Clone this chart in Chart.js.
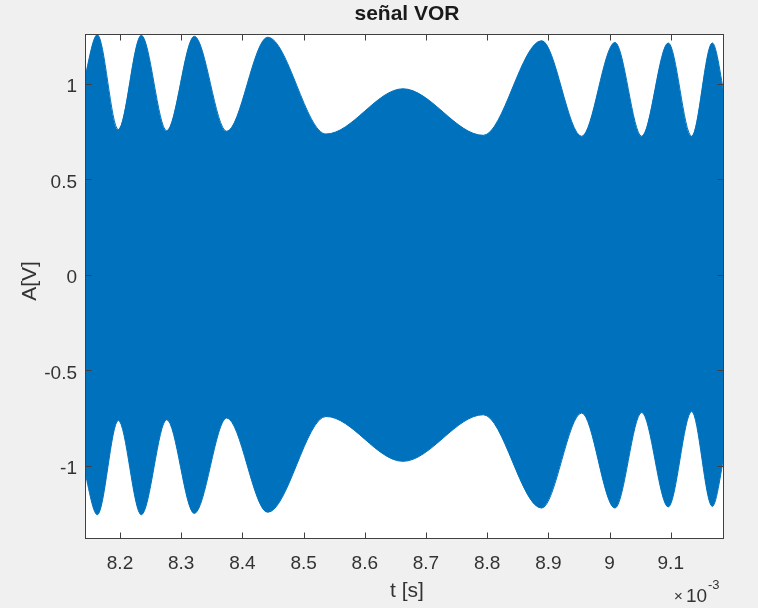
<!DOCTYPE html>
<html>
<head>
<meta charset="utf-8">
<script src="https://cdn.jsdelivr.net/npm/chart.js@4.4.1/dist/chart.umd.min.js"></script>
<style>
  html, body { margin: 0; padding: 0; background: #f0f0f0; }
  #wrap { width: 758px; height: 608px; }
</style>
</head>
<body>
<div id="wrap"><canvas id="c" width="758" height="608"></canvas></div>
<script>
// Time axis in units of 1e-3 s (the axis shows the ×10^-3 multiplier)
const timeMs = [8.140, 8.1629, 8.1972, 8.2348, 8.2763, 8.3214, 8.3743, 8.4413, 8.5366,
                8.6624, 8.7936, 8.8890, 8.9544, 9.0088, 9.0525, 9.0959, 9.1342, 9.1678, 9.190];

// Envelope of the modulated carrier (the carrier itself is too dense to resolve: it fills the band)
const upperEnvelope = [1.0, 1.258, 0.761, 1.255, 0.755, 1.250, 0.752, 1.245, 0.738,
                       0.975, 0.731, 1.227, 0.726, 1.218, 0.726, 1.215, 0.726, 1.215, 0.90];
const lowerEnvelope = [-1.0, -1.257, -0.763, -1.257, -0.759, -1.250, -0.750, -1.244, -0.742,
                       -0.977, -0.733, -1.222, -0.724, -1.222, -0.721, -1.216, -0.716, -1.213, -0.90];

const xTickValues = [8.2, 8.3, 8.4, 8.5, 8.6, 8.7, 8.8, 8.9, 9.0, 9.1];
const xTickLabels = ['8.2', '8.3', '8.4', '8.5', '8.6', '8.7', '8.8', '8.9', '9', '9.1'];
const yTickValues = [-1, -0.5, 0, 0.5, 1];
const yTickLabels = ['-1', '-0.5', '0', '0.5', '1'];

const xRange = [8.1428, 9.187];
const yRange = [-1.384, 1.262];

const FONT = "'Liberation Sans', Arial, Helvetica, sans-serif";
const INK = '#333333';
const BLUE = '#0072BD';

const toPoints = (xs, ys) => xs.map((x, i) => ({ x: x, y: ys[i] }));

// Figure background, white axes area, box with inward ticks and the text annotations
const axesFrame = {
  id: 'axesFrame',
  beforeDraw(chart) {
    const { ctx, chartArea: a } = chart;
    ctx.save();
    ctx.fillStyle = '#f0f0f0';
    ctx.fillRect(0, 0, chart.width, chart.height);
    ctx.fillStyle = '#ffffff';
    ctx.fillRect(a.left, a.top, a.right - a.left, a.bottom - a.top);
    ctx.restore();
  },
  afterDatasetsDraw(chart) {
    const { ctx, chartArea: a, scales } = chart;
    const L = Math.round(a.left) + 0.5, R = Math.round(a.right) - 0.5;
    const T = Math.round(a.top) + 0.5, B = Math.round(a.bottom) - 0.5;
    ctx.save();
    ctx.strokeStyle = '#404040';
    ctx.lineWidth = 1;
    ctx.beginPath();
    xTickValues.forEach(v => {
      const px = Math.round(scales.x.getPixelForValue(v)) + 0.5;
      ctx.moveTo(px, B); ctx.lineTo(px, B - 6);
      ctx.moveTo(px, T); ctx.lineTo(px, T + 6);
    });
    yTickValues.forEach(v => {
      const py = Math.round(scales.y.getPixelForValue(v)) + 0.5;
      ctx.moveTo(L, py); ctx.lineTo(L + 6, py);
      ctx.moveTo(R, py); ctx.lineTo(R - 6, py);
    });
    ctx.stroke();
    ctx.strokeRect(L, T, R - L, B - T);
    ctx.restore();
  },
  afterDraw(chart) {
    const { ctx } = chart;
    ctx.save();
    ctx.fillStyle = '#1a1a1a';
    ctx.textAlign = 'center';
    ctx.textBaseline = 'middle';
    ctx.font = 'bold 21px ' + FONT;
    ctx.fillText('señal VOR', 407, 14);

    ctx.fillStyle = INK;
    ctx.font = '21px ' + FONT;
    ctx.fillText('t [s]', 407, 591);

    ctx.save();
    ctx.translate(30, 281);
    ctx.rotate(-Math.PI / 2);
    ctx.fillText('A[V]', 0, 0);
    ctx.restore();

    ctx.textAlign = 'left';
    ctx.textBaseline = 'alphabetic';
    ctx.font = '15px ' + FONT;
    ctx.fillText('×', 674, 601);
    ctx.font = '19px ' + FONT;
    ctx.fillText('10', 686, 602);
    ctx.font = '13px ' + FONT;
    ctx.fillText('-3', 708, 589);
    ctx.restore();
  }
};

new Chart(document.getElementById('c'), {
  type: 'line',
  data: {
    datasets: [
      {
        label: 'upper',
        data: toPoints(timeMs, upperEnvelope),
        borderColor: BLUE,
        backgroundColor: BLUE,
        borderWidth: 1,
        pointRadius: 0,
        cubicInterpolationMode: 'monotone',
        fill: '+1'
      },
      {
        label: 'lower',
        data: toPoints(timeMs, lowerEnvelope),
        borderColor: BLUE,
        backgroundColor: BLUE,
        borderWidth: 1,
        pointRadius: 0,
        cubicInterpolationMode: 'monotone',
        fill: false
      }
    ]
  },
  options: {
    responsive: false,
    animation: false,
    devicePixelRatio: 1,
    layout: { padding: { left: 0, top: 34, right: 34, bottom: 0 } },
    plugins: {
      legend: { display: false },
      tooltip: { enabled: false },
      title: { display: false }
    },
    scales: {
      x: {
        type: 'linear',
        min: xRange[0],
        max: xRange[1],
        border: { display: false },
        grid: { display: false, drawTicks: false },
        afterBuildTicks: s => { s.ticks = xTickValues.map(v => ({ value: v })); },
        afterFit: s => { s.height = 69; },
        ticks: {
          autoSkip: false,
          maxRotation: 0,
          padding: 13,
          color: INK,
          font: { family: FONT, size: 19 },
          callback: (v) => {
            const i = xTickValues.findIndex(t => Math.abs(t - v) < 1e-9);
            return i >= 0 ? xTickLabels[i] : '';
          }
        }
      },
      y: {
        type: 'linear',
        min: yRange[0],
        max: yRange[1],
        border: { display: false },
        grid: { display: false, drawTicks: false },
        afterBuildTicks: s => { s.ticks = yTickValues.map(v => ({ value: v })); },
        afterFit: s => { s.width = 85; },
        ticks: {
          autoSkip: false,
          padding: 8,
          labelOffset: 3,
          color: INK,
          font: { family: FONT, size: 19 },
          callback: (v) => {
            const i = yTickValues.findIndex(t => Math.abs(t - v) < 1e-9);
            return i >= 0 ? yTickLabels[i] : '';
          }
        }
      }
    }
  },
  plugins: [axesFrame]
});
</script>
</body>
</html>
